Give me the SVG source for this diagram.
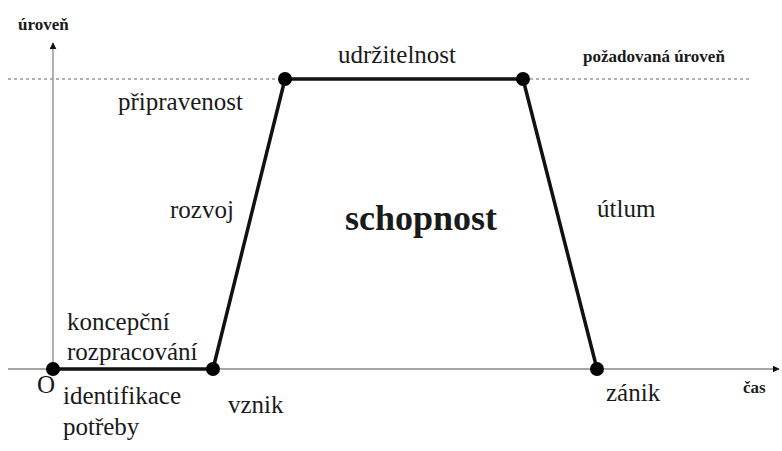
<svg xmlns="http://www.w3.org/2000/svg" width="782" height="451" viewBox="0 0 782 451">
<style>
text{fill:#1a1a1a}
.lbl{font-size:25px}
.sm{font-size:17px;font-weight:bold}
.axis{stroke:#888;stroke-width:1.3;fill:none}
.curve{stroke:#111;stroke-width:3.5;fill:none;stroke-linejoin:round}
.dot{fill:#000}
</style>
<defs>
<marker id="arr" viewBox="0 0 10 10" refX="9" refY="5" markerWidth="7" markerHeight="7" orient="auto" markerUnits="userSpaceOnUse">
<path d="M0,0 L10,5 L0,10 z" fill="#111"/>
</marker>
</defs>
<rect width="782" height="451" fill="#fff"/>
<g id="connectors">
<line class="axis" x1="53" y1="375" x2="53" y2="43" marker-end="url(#arr)"/>
<line class="axis" x1="8" y1="369" x2="779" y2="369" marker-end="url(#arr)"/>
<line x1="8" y1="79" x2="750" y2="79" stroke="#999" stroke-width="1.3" stroke-dasharray="3,3"/>
<polyline class="curve" points="53,369 213,369 285,79 523,79 597,369"/>
</g>
<g id="node-origin"><circle class="dot" cx="53" cy="369" r="7"/></g>
<g id="node-vznik"><circle class="dot" cx="213" cy="369" r="7"/></g>
<g id="node-pripravenost"><circle class="dot" cx="285" cy="79" r="7"/></g>
<g id="node-utlum-start"><circle class="dot" cx="523" cy="79" r="7"/></g>
<g id="node-zanik"><circle class="dot" cx="597" cy="369" r="7"/></g>
<g id="labels" font-family="Liberation Serif, DejaVu Serif, serif">
<text class="sm" x="18" y="30">úroveň</text>
<text class="sm" x="583" y="62">požadovaná úroveň</text>
<text class="lbl" x="338" y="63">udržitelnost</text>
<text class="lbl" x="118" y="110">připravenost</text>
<text class="lbl" x="170" y="218">rozvoj</text>
<text x="345" y="230" font-size="36" font-weight="bold">schopnost</text>
<text class="lbl" x="597" y="217">útlum</text>
<text class="lbl" x="67" y="330">koncepční</text>
<text class="lbl" x="67" y="360">rozpracování</text>
<text class="lbl" x="37" y="393">O</text>
<text class="lbl" x="63" y="404">identifikace</text>
<text class="lbl" x="63" y="435">potřeby</text>
<text class="lbl" x="228" y="413">vznik</text>
<text class="lbl" x="606" y="401">zánik</text>
<text class="sm" x="743" y="393">čas</text>
</g>
</svg>
